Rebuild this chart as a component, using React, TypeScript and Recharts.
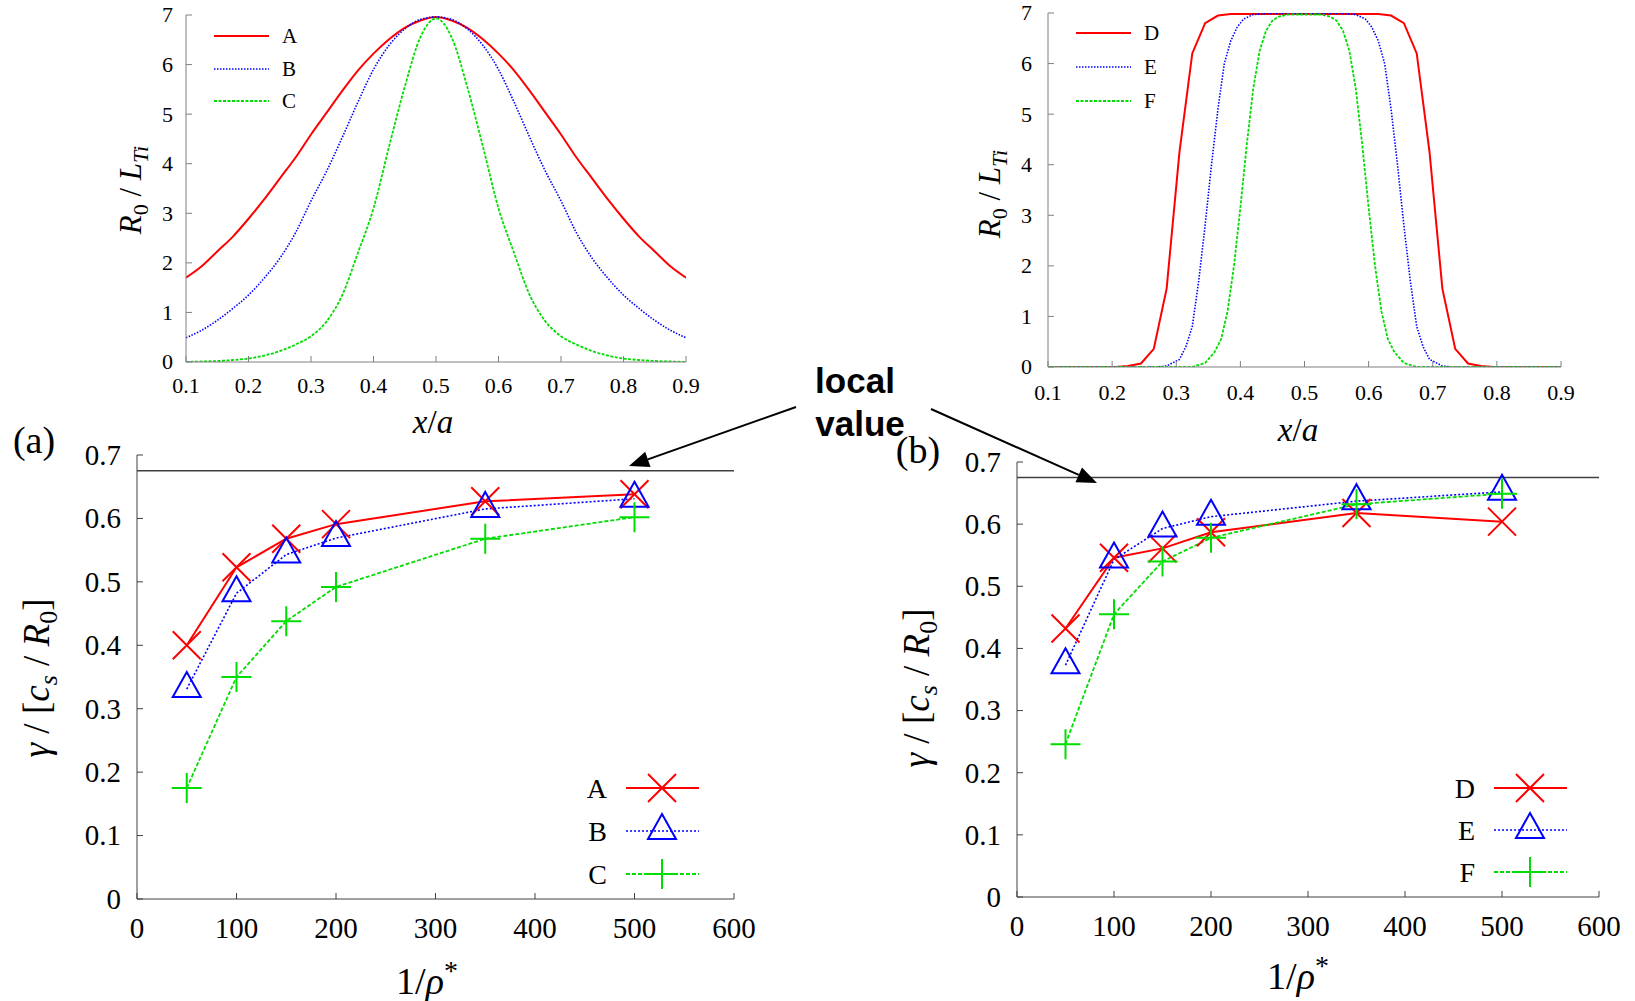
import React from "react";
import { LineChart, Line, XAxis, YAxis, ReferenceLine } from "recharts";

// ---- top-left: temperature gradient profiles A, B, C ----
const profileX = [0.1, 0.125, 0.15, 0.175, 0.2, 0.225, 0.25, 0.275, 0.3, 0.325, 0.35, 0.375, 0.4, 0.425, 0.45, 0.475, 0.5, 0.525, 0.55, 0.575, 0.6, 0.625, 0.65, 0.675, 0.7, 0.725, 0.75, 0.775, 0.8, 0.825, 0.85, 0.875, 0.9];
const profileA = [1.7, 1.93, 2.23, 2.53, 2.89, 3.28, 3.7, 4.12, 4.59, 5.03, 5.47, 5.88, 6.22, 6.51, 6.74, 6.89, 6.96, 6.89, 6.74, 6.51, 6.22, 5.88, 5.47, 5.03, 4.59, 4.12, 3.7, 3.28, 2.89, 2.53, 2.23, 1.93, 1.7];
const profileB = [0.49, 0.64, 0.84, 1.08, 1.35, 1.69, 2.09, 2.6, 3.25, 3.85, 4.53, 5.24, 5.9, 6.39, 6.72, 6.91, 6.96, 6.91, 6.72, 6.39, 5.9, 5.24, 4.53, 3.85, 3.25, 2.6, 2.09, 1.69, 1.35, 1.08, 0.84, 0.64, 0.49];
const profileC = [0, 0.01, 0.02, 0.04, 0.07, 0.13, 0.22, 0.35, 0.52, 0.82, 1.35, 2.2, 3.1, 4.35, 5.55, 6.55, 6.93, 6.55, 5.55, 4.35, 3.1, 2.2, 1.35, 0.82, 0.52, 0.35, 0.22, 0.13, 0.07, 0.04, 0.02, 0.01, 0];

// ---- top-right: flat-top profiles D, E, F ----
const flatDx = [0.1, 0.205, 0.225, 0.245, 0.265, 0.285, 0.305, 0.325, 0.345, 0.365, 0.385, 0.615, 0.635, 0.655, 0.675, 0.695, 0.715, 0.735, 0.755, 0.775, 0.795, 0.9];
const flatDy = [0, 0, 0.02, 0.07, 0.36, 1.55, 4.25, 6.2, 6.8, 6.95, 6.98, 6.98, 6.95, 6.8, 6.2, 4.25, 1.55, 0.36, 0.07, 0.02, 0, 0];
const flatEx = [0.1, 0.27, 0.285, 0.305, 0.315, 0.325, 0.335, 0.345, 0.355, 0.365, 0.375, 0.385, 0.395, 0.405, 0.42, 0.44, 0.56, 0.58, 0.595, 0.605, 0.615, 0.625, 0.635, 0.645, 0.655, 0.665, 0.675, 0.685, 0.695, 0.715, 0.73, 0.9];
const flatEy = [0, 0, 0.02, 0.15, 0.4, 0.8, 1.7, 2.8, 4.0, 5.1, 6.0, 6.45, 6.72, 6.88, 6.97, 6.99, 6.99, 6.97, 6.88, 6.72, 6.45, 6.0, 5.1, 4.0, 2.8, 1.7, 0.8, 0.4, 0.15, 0.02, 0, 0];
const flatFx = [0.1, 0.325, 0.345, 0.36, 0.37, 0.38, 0.39, 0.4, 0.41, 0.42, 0.43, 0.44, 0.45, 0.46, 0.475, 0.525, 0.54, 0.55, 0.56, 0.57, 0.58, 0.59, 0.6, 0.61, 0.62, 0.63, 0.64, 0.655, 0.675, 0.9];
const flatFy = [0, 0, 0.08, 0.3, 0.55, 1.1, 2.0, 3.15, 4.4, 5.5, 6.25, 6.65, 6.85, 6.93, 6.97, 6.97, 6.93, 6.85, 6.65, 6.25, 5.5, 4.4, 3.15, 2.0, 1.1, 0.55, 0.3, 0.08, 0, 0];

// ---- bottom: growth rate vs 1/rho* ----
const rhoInv = [50, 100, 150, 200, 350, 500];
const gammaA = [0.4, 0.523, 0.568, 0.591, 0.627, 0.638];
const gammaB = [0.331, 0.482, 0.543, 0.569, 0.615, 0.631];
const gammaC = [0.175, 0.35, 0.438, 0.492, 0.568, 0.602];
const gammaD = [0.432, 0.546, 0.561, 0.587, 0.618, 0.604];
const gammaE = [0.373, 0.543, 0.593, 0.612, 0.637, 0.652];
const gammaF = [0.246, 0.455, 0.54, 0.578, 0.632, 0.649];
const localValue = 0.675;

const profileXTicks = [0.1, 0.2, 0.3, 0.4, 0.5, 0.6, 0.7, 0.8, 0.9];
const profileYTicks = [0, 1, 2, 3, 4, 5, 6, 7];
const rhoTicks = [0, 100, 200, 300, 400, 500, 600];
const gammaTicks = [0, 0.1, 0.2, 0.3, 0.4, 0.5, 0.6, 0.7];

const RED = "#ff0000";
const BLUE = "#0000ff";
const GREEN = "#00dd00";
const SERIF = "Liberation Serif";
const SANS = "Liberation Sans";

const profileRows = profileX.map((x, i) => ({ x, A: profileA[i], B: profileB[i], C: profileC[i] }));
const pairs = (xs: number[], ys: number[]) => xs.map((x, i) => ({ x, y: ys[i] }));
const growthRows = rhoInv.map((x, i) => ({
  x, A: gammaA[i], B: gammaB[i], C: gammaC[i], D: gammaD[i], E: gammaE[i], F: gammaF[i],
}));

// marker shapes (gnuplot-like)
const crossPath = (cx: number, cy: number, s = 14) =>
  `M${cx - s},${cy - s}L${cx + s},${cy + s}M${cx - s},${cy + s}L${cx + s},${cy - s}`;
const plusPath = (cx: number, cy: number, s = 15) =>
  `M${cx - s},${cy}L${cx + s},${cy}M${cx},${cy - s}L${cx},${cy + s}`;
const triPath = (cx: number, cy: number) =>
  `M${cx},${cy - 17}L${cx + 14},${cy + 8}L${cx - 14},${cy + 8}Z`;

const makeDot = (kind: string, color: string) => (p: any) => {
  const { cx, cy, index } = p;
  if (cx == null || cy == null) return <g key={`n${index}`} />;
  const d = kind === "x" ? crossPath(cx, cy) : kind === "+" ? plusPath(cx, cy) : triPath(cx, cy);
  return <path key={`${kind}${index}`} d={d} stroke={color} strokeWidth={2} fill="none" />;
};

// serif tick labels drawn directly
const bottomTick = (fontSize: number) => (p: any) => (
  <text x={p.x} y={p.y} dy="0.72em" textAnchor="middle" fontFamily={SERIF} fontSize={fontSize} fill="#000">
    {String(p.payload.value)}
  </text>
);
const leftTick = (fontSize: number) => (p: any) => (
  <text x={p.x} y={p.y} dy="0.34em" textAnchor="end" fontFamily={SERIF} fontSize={fontSize} fill="#000">
    {String(p.payload.value)}
  </text>
);

const PT = 24;
const PR = 36;
const PL = 4;
const PB = 4;
const YW = 70;
const XH = 50;

type Rect = { left: number; top: number; w: number; h: number };

function Panel({
  plot, data, xDomain, xTicks, yDomain, yTicks, frame, fontSize, xMargin, yMargin, children,
}: {
  plot: Rect; data?: any[]; xDomain: number[]; xTicks: number[]; yDomain: number[]; yTicks: number[];
  frame: string; fontSize: number; xMargin: number; yMargin: number; children: React.ReactNode;
}) {
  const width = plot.w + PL + PR + YW;
  const height = plot.h + PT + PB + XH;
  return (
    <div style={{ position: "absolute", left: plot.left - PL - YW, top: plot.top - PT, width, height }}>
      <LineChart width={width} height={height} data={data} margin={{ top: PT, right: PR, bottom: PB, left: PL }}>
        <XAxis xAxisId="b" type="number" dataKey="x" domain={xDomain} ticks={xTicks} interval={0}
          allowDataOverflow height={XH} tickSize={-6} tickMargin={xMargin} stroke={frame} tick={bottomTick(fontSize)} />
        <XAxis xAxisId="t" orientation="top" type="number" dataKey="x" domain={xDomain} ticks={xTicks}
          interval={0} allowDataOverflow height={0} tickSize={-6} stroke={frame} tick={() => <g />} />
        <YAxis yAxisId="l" type="number" domain={yDomain} ticks={yTicks} interval={0} allowDataOverflow
          width={YW} tickSize={-6} tickMargin={yMargin} stroke={frame} tick={leftTick(fontSize)} />
        <YAxis yAxisId="r" orientation="right" type="number" domain={yDomain} ticks={yTicks} interval={0}
          allowDataOverflow width={0} tickSize={-6} stroke={frame} tick={() => <g />} />
        {children}
      </LineChart>
    </div>
  );
}

function Arrow({ x1, y1, x2, y2 }: { x1: number; y1: number; x2: number; y2: number }) {
  const dx = x2 - x1, dy = y2 - y1;
  const len = Math.hypot(dx, dy);
  const ux = dx / len, uy = dy / len;
  const hl = 20, hw = 8;
  const bx = x2 - ux * hl, by = y2 - uy * hl;
  return (
    <g>
      <line x1={x1} y1={y1} x2={bx} y2={by} stroke="#000" strokeWidth={2} />
      <polygon points={`${x2},${y2} ${bx - uy * hw},${by + ux * hw} ${bx + uy * hw},${by - ux * hw}`} fill="#000" />
    </g>
  );
}

function LineLegend({ x, y, label, color, dash, width }: any) {
  return (
    <g>
      <line x1={x} y1={y} x2={x + 55} y2={y} stroke={color} strokeWidth={width} strokeDasharray={dash} />
      <text x={x + 68} y={y + 7} fontFamily={SERIF} fontSize={21}>{label}</text>
    </g>
  );
}

function MarkLegend({ x, y, label, color, dash, width, kind }: any) {
  const d = kind === "x" ? crossPath(x + 36, y) : kind === "+" ? plusPath(x + 36, y) : triPath(x + 36, y);
  return (
    <g>
      <text x={x - 19} y={y + 10} textAnchor="end" fontFamily={SERIF} fontSize={28}>{label}</text>
      <line x1={x} y1={y} x2={x + 73} y2={y} stroke={color} strokeWidth={width} strokeDasharray={dash} />
      <path d={d} stroke={color} strokeWidth={2} fill="none" />
    </g>
  );
}

function RatioLabel({ x, y }: { x: number; y: number }) {
  return (
    <text transform={`translate(${x},${y}) rotate(-90)`} textAnchor="middle" fontFamily={SERIF} fontSize={31} fontStyle="italic">
      R<tspan dy={7} fontSize={22} fontStyle="normal">0</tspan><tspan dy={-7} fontStyle="normal"> / </tspan>L<tspan dy={7} fontSize={22}>Ti</tspan>
    </text>
  );
}

function GammaLabel({ x, y }: { x: number; y: number }) {
  return (
    <text transform={`translate(${x},${y}) rotate(-90)`} textAnchor="middle" fontFamily={SERIF} fontSize={37}>
      <tspan fontStyle="italic">γ</tspan>{"  /  ["}<tspan fontStyle="italic">c</tspan><tspan dy={8} fontSize={26} fontStyle="italic">s</tspan><tspan dy={-8}>{" / "}</tspan><tspan fontStyle="italic">R</tspan><tspan dy={8} fontSize={26}>0</tspan><tspan dy={-8}>]</tspan>
    </text>
  );
}

const TL: Rect = { left: 186, top: 15, w: 500, h: 347 };
const TR: Rect = { left: 1048, top: 13, w: 513, h: 354 };
const BL: Rect = { left: 137, top: 455, w: 597, h: 444 };
const BR: Rect = { left: 1017, top: 462, w: 582, h: 435 };

export default function App() {
  return (
    <div style={{ position: "absolute", left: 0, top: 0, width: 1635, height: 1001, background: "#fff" }}>
      <Panel plot={TL} data={profileRows} xDomain={[0.1, 0.9]} xTicks={profileXTicks} yDomain={[0, 7]}
        yTicks={profileYTicks} frame="#808080" fontSize={22} xMargin={21} yMargin={19}>
        <Line xAxisId="b" yAxisId="l" type="monotone" dataKey="A" stroke={RED} strokeWidth={2} dot={false} isAnimationActive={false} />
        <Line xAxisId="b" yAxisId="l" type="monotone" dataKey="B" stroke={BLUE} strokeWidth={1.6} strokeDasharray="1.5 1.5" dot={false} isAnimationActive={false} />
        <Line xAxisId="b" yAxisId="l" type="monotone" dataKey="C" stroke={GREEN} strokeWidth={1.8} strokeDasharray="3 1.5" dot={false} isAnimationActive={false} />
      </Panel>

      <Panel plot={TR} xDomain={[0.1, 0.9]} xTicks={profileXTicks} yDomain={[0, 7]}
        yTicks={profileYTicks} frame="#808080" fontSize={22} xMargin={23} yMargin={22}>
        <Line xAxisId="b" yAxisId="l" type="linear" data={pairs(flatDx, flatDy)} dataKey="y" stroke={RED} strokeWidth={2} dot={false} isAnimationActive={false} />
        <Line xAxisId="b" yAxisId="l" type="linear" data={pairs(flatEx, flatEy)} dataKey="y" stroke={BLUE} strokeWidth={1.6} strokeDasharray="1.5 1.5" dot={false} isAnimationActive={false} />
        <Line xAxisId="b" yAxisId="l" type="linear" data={pairs(flatFx, flatFy)} dataKey="y" stroke={GREEN} strokeWidth={1.8} strokeDasharray="3 1.5" dot={false} isAnimationActive={false} />
      </Panel>

      <Panel plot={BL} data={growthRows} xDomain={[0, 600]} xTicks={rhoTicks} yDomain={[0, 0.7]}
        yTicks={gammaTicks} frame="#404040" fontSize={29} xMargin={24} yMargin={22}>
        <ReferenceLine xAxisId="b" yAxisId="l" y={localValue} stroke="#404040" strokeWidth={1.5} />
        <Line xAxisId="b" yAxisId="l" type="linear" dataKey="A" stroke={RED} strokeWidth={2} dot={makeDot("x", RED)} isAnimationActive={false} />
        <Line xAxisId="b" yAxisId="l" type="linear" dataKey="B" stroke={BLUE} strokeWidth={1.6} strokeDasharray="2 2" dot={makeDot("t", BLUE)} isAnimationActive={false} />
        <Line xAxisId="b" yAxisId="l" type="linear" dataKey="C" stroke={GREEN} strokeWidth={1.8} strokeDasharray="4 2" dot={makeDot("+", GREEN)} isAnimationActive={false} />
      </Panel>

      <Panel plot={BR} data={growthRows} xDomain={[0, 600]} xTicks={rhoTicks} yDomain={[0, 0.7]}
        yTicks={gammaTicks} frame="#404040" fontSize={29} xMargin={24} yMargin={22}>
        <ReferenceLine xAxisId="b" yAxisId="l" y={localValue} stroke="#404040" strokeWidth={1.5} />
        <Line xAxisId="b" yAxisId="l" type="linear" dataKey="D" stroke={RED} strokeWidth={2} dot={makeDot("x", RED)} isAnimationActive={false} />
        <Line xAxisId="b" yAxisId="l" type="linear" dataKey="E" stroke={BLUE} strokeWidth={1.6} strokeDasharray="2 2" dot={makeDot("t", BLUE)} isAnimationActive={false} />
        <Line xAxisId="b" yAxisId="l" type="linear" dataKey="F" stroke={GREEN} strokeWidth={1.8} strokeDasharray="4 2" dot={makeDot("+", GREEN)} isAnimationActive={false} />
      </Panel>

      <svg width={1635} height={1001} style={{ position: "absolute", left: 0, top: 0, pointerEvents: "none" }}>
        {/* top legends */}
        <LineLegend x={214} y={36} label="A" color={RED} width={2} />
        <LineLegend x={214} y={69} label="B" color={BLUE} width={1.6} dash="1.5 1.5" />
        <LineLegend x={214} y={101} label="C" color={GREEN} width={1.8} dash="3 1.5" />
        <LineLegend x={1076} y={33} label="D" color={RED} width={2} />
        <LineLegend x={1076} y={67} label="E" color={BLUE} width={1.6} dash="1.5 1.5" />
        <LineLegend x={1076} y={101} label="F" color={GREEN} width={1.8} dash="3 1.5" />

        {/* bottom legends */}
        <MarkLegend x={626} y={788} label="A" color={RED} width={2} kind="x" />
        <MarkLegend x={626} y={831} label="B" color={BLUE} width={1.6} dash="2 2" kind="t" />
        <MarkLegend x={626} y={874} label="C" color={GREEN} width={1.8} dash="4 2" kind="+" />
        <MarkLegend x={1494} y={788} label="D" color={RED} width={2} kind="x" />
        <MarkLegend x={1494} y={830} label="E" color={BLUE} width={1.6} dash="2 2" kind="t" />
        <MarkLegend x={1494} y={872} label="F" color={GREEN} width={1.8} dash="4 2" kind="+" />

        {/* axis titles, top */}
        <RatioLabel x={141} y={190} />
        <RatioLabel x={1000} y={194} />
        <text x={433} y={433} textAnchor="middle" fontFamily={SERIF} fontSize={33} fontStyle="italic">
          x<tspan fontStyle="normal">/</tspan>a
        </text>
        <text x={1298} y={441} textAnchor="middle" fontFamily={SERIF} fontSize={33} fontStyle="italic">
          x<tspan fontStyle="normal">/</tspan>a
        </text>

        {/* axis titles, bottom */}
        <GammaLabel x={49} y={678} />
        <GammaLabel x={929} y={688} />
        <text x={427} y={994} textAnchor="middle" fontFamily={SERIF} fontSize={38}>
          {"1/"}<tspan fontStyle="italic">ρ</tspan><tspan dy={-14} fontSize={28}>*</tspan>
        </text>
        <text x={1298} y={989} textAnchor="middle" fontFamily={SERIF} fontSize={38}>
          {"1/"}<tspan fontStyle="italic">ρ</tspan><tspan dy={-14} fontSize={28}>*</tspan>
        </text>

        {/* panel tags */}
        <text x={34} y={453} textAnchor="middle" fontFamily={SERIF} fontSize={38}>(a)</text>
        <text x={918} y={463} textAnchor="middle" fontFamily={SERIF} fontSize={38}>(b)</text>

        {/* local value annotation */}
        <text x={855} y={393} textAnchor="middle" fontFamily={SANS} fontWeight="bold" fontSize={35}>local</text>
        <text x={860} y={436} textAnchor="middle" fontFamily={SANS} fontWeight="bold" fontSize={35}>value</text>
        <Arrow x1={796} y1={407} x2={629} y2={466} />
        <Arrow x1={931} y1={409} x2={1097} y2={483} />
      </svg>
    </div>
  );
}
